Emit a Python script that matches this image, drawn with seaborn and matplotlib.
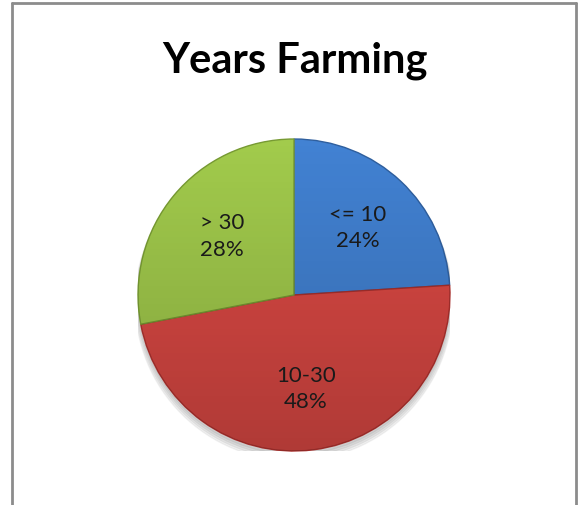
import matplotlib
matplotlib.use("Agg")
from matplotlib import pyplot as plt
from matplotlib.lines import Line2D
import numpy as np
import seaborn as sns

categories = ["<= 10", "10-30", "> 30"]
shares = [24, 48, 28]
slice_colors = ["#4282D3", "#DC4944", "#A2CB4C"]
edge_colors = ["#2F5F9E", "#A8302D", "#779A33"]

sns.set_theme(style="white")
plt.rcParams['font.family'] = ['Lato', 'DejaVu Sans']

fig = plt.figure(figsize=(5.81, 5.06), dpi=100)
ax = fig.add_axes([0.2375, 0.1067, 0.537, 0.6166])

# soft shadow under the pie
for k in range(4):
    ax.add_patch(plt.Circle((0.0, -0.02 - 0.008 * k), 1.0 + 0.006 * k,
                            color="#000000", alpha=0.05, zorder=0))

wedges, texts = ax.pie(shares, colors=slice_colors, startangle=90, counterclock=False,
                       radius=1.0, wedgeprops=dict(linewidth=1.0))
for w, ec in zip(wedges, edge_colors):
    w.set_edgecolor(ec)
    w.set_zorder(2)

# darker toward the bottom, like the original's shading
grad = np.linspace(0, 1, 256).reshape(-1, 1)
shade = np.zeros((256, 1, 4))
shade[..., 3] = 0.2 * grad
img = ax.imshow(shade, extent=(-1, 1, -1, 1), origin="upper", zorder=3,
                interpolation="bilinear", aspect="auto")
img.set_clip_path(plt.Circle((0, 0), 1.0, transform=ax.transData))

# labels inside the slices
total = sum(shares)
start = 90.0
for cat, val in zip(categories, shares):
    span = 360.0 * val / total
    mid = np.deg2rad(start - span / 2)
    ax.text(0.6 * np.cos(mid), 0.6 * np.sin(mid), f"{cat}\n{val}%",
            ha="center", va="center", fontsize=16, color="#1a1a1a",
            linespacing=1.4, zorder=5)
    start -= span

ax.set_xlim(-1, 1)
ax.set_ylim(-1, 1)
ax.set_aspect("equal")
ax.axis("off")

fig.text(0.507, 1 - 72 / 506, "Years Farming", ha="center", va="baseline",
         fontsize=30, fontweight="bold", color="#000000")

# chart frame (open at the bottom)
border = dict(color="#8c8c8c", linewidth=2.0, transform=fig.transFigure)
fig.add_artist(Line2D([12 / 581, 12 / 581], [0, 1 - 4 / 506], **border))
fig.add_artist(Line2D([576 / 581, 576 / 581], [0, 1 - 4 / 506], **border))
fig.add_artist(Line2D([12 / 581, 576 / 581], [1 - 4 / 506, 1 - 4 / 506], **border))

fig.savefig("out.png", dpi=100, facecolor="white")
